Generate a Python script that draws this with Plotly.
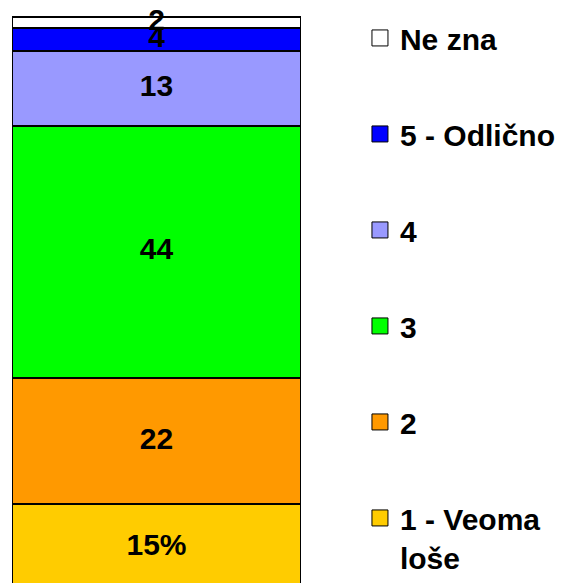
import plotly.graph_objects as go

# Data (bottom to top of the stacked bar)
categories = ["1 - Veoma<br>loše", "2", "3", "4", "5 - Odlično", "Ne zna"]
values = [15, 22, 44, 13, 4, 2]
labels = ["15%", "22", "44", "13", "4", "2"]
colors = ["#FFCC00", "#FF9900", "#00FF00", "#9999FF", "#0000FF", "#FFFFFF"]

FONT = "Arial, Liberation Sans, sans-serif"

fig = go.Figure()

# stacked segments
for cat, val, col in zip(categories, values, colors):
    fig.add_trace(go.Bar(
        x=[0], y=[val], name=cat, width=1,
        marker=dict(color=col, line=dict(color="black", width=2)),
        showlegend=False, hoverinfo="skip",
    ))

# legend entries (bigger square swatches than the bar icons)
for i, (cat, col) in enumerate(zip(categories, colors)):
    fig.add_trace(go.Scatter(
        x=[None], y=[None], mode="markers", name=cat,
        legendgroup=f"g{i}", legendrank=100 - i,
        marker=dict(symbol="square", size=16, color=col,
                    line=dict(color="black", width=1)),
    ))

# value labels at segment centres
mids = []
acc = 0
for v in values:
    mids.append(acc + v / 2)
    acc += v
fig.add_trace(go.Scatter(
    x=[0] * len(values), y=mids, text=labels, mode="text",
    textfont=dict(family=FONT, size=30, color="black", weight="bold"),
    showlegend=False, hoverinfo="skip", cliponaxis=False,
))

fig.update_layout(
    barmode="stack",
    width=564, height=583,
    margin=dict(l=12, r=263, t=0, b=0, autoexpand=False),
    plot_bgcolor="white", paper_bgcolor="white",
    xaxis=dict(range=[-0.5, 0.5], visible=False),
    # bottom of the bar runs off the picture, as in the original
    yaxis=dict(range=[1.22, 102.97], visible=False),
    legend=dict(
        x=1.204, xanchor="left", y=0.9795, yanchor="top",
        font=dict(family=FONT, size=30, color="black", weight="bold"),
        itemsizing="trace", valign="top", traceorder="grouped",
        tracegroupgap=54, itemwidth=30,
    ),
)

fig.write_html("out.html", config={"displayModeBar": False},
               post_script="document.body.style.margin='0';")
